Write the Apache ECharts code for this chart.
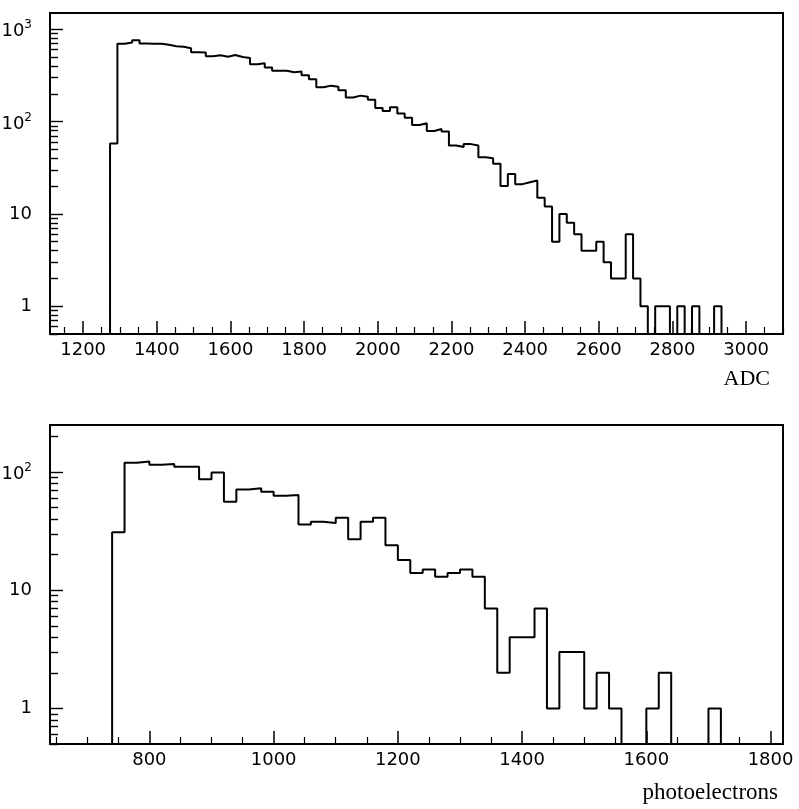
<!DOCTYPE html>
<html>
<head>
<meta charset="utf-8">
<script src="https://cdn.jsdelivr.net/npm/echarts@6/dist/echarts.min.js"></script>
<style>
  html, body { margin: 0; padding: 0; background: #fff; }
  #chart { width: 799px; height: 809px; }
</style>
</head>
<body>
<div id="chart"></div>
<script>
// Upper panel: ADC spectrum, 20-channel bins starting at adcFirstEdge
const adcFirstEdge = 1273;
const adcBinWidth = 20;
const adcCounts = [
  58, 695, 718, 760, 700, 698, 695, 680, 655, 645,
  624, 565, 560, 510, 522, 505, 525, 500, 488, 418,
  428, 385, 356, 356, 343, 348, 318, 288, 235, 245,
  238, 218, 182, 191, 186, 172, 140, 130, 143, 122,
  110, 92, 96, 79, 83, 78, 55, 53, 57, 55,
  41, 40, 35, 20, 27, 21, 22, 23, 15, 12,
  5, 10, 8, 6, 4, 4, 5, 3, 2, 2,
  6, 2, 1, 0, 1, 1, 0, 1, 0, 1,
  0, 0, 1
];
const adcRange = [1110, 3100];
const adcTicks = [1200, 1400, 1600, 1800, 2000, 2200, 2400, 2600, 2800, 3000];
const adcCountRange = [0.5, 1500];
const adcDecades = [1, 10, 100, 1000];

// Lower panel: photoelectron spectrum, 20-wide bins starting at peFirstEdge
const peFirstEdge = 740;
const peBinWidth = 20;
const peCounts = [
  31, 120, 123, 115, 117, 111, 111, 87, 99, 56,
  71, 73, 68, 63, 64, 36, 38, 37, 41, 27,
  38, 41, 24, 18, 14, 15, 13, 14, 15, 13,
  7, 2, 4, 4, 7, 1, 3, 3, 1, 2,
  1, 0, 0, 1, 2, 0, 0, 0, 1
];
const peRange = [640, 1820];
const peTicks = [800, 1000, 1200, 1400, 1600, 1800];
const peCountRange = [0.5, 250];
const peDecades = [1, 10, 100];

const INK = '#000';
const SANS = 'DejaVu Sans';
const SERIF = 'Liberation Serif';

// Outline of a histogram: flat tops joined by vertical edges, empty bins on the floor
function histogramOutline(firstEdge, width, counts, floor) {
  const pts = [[firstEdge, floor]];
  counts.forEach((c, i) => {
    const v = c > 0 ? c : floor;
    pts.push([firstEdge + i * width, v], [firstEdge + (i + 1) * width, v]);
  });
  pts.push([firstEdge + counts.length * width, floor]);
  return pts;
}

// Linear minor ticks every `step`, skipping labelled positions
function linearMinor(range, step, majors) {
  const out = [];
  for (let v = Math.ceil(range[0] / step) * step; v <= range[1]; v += step) {
    if (!majors.includes(v)) out.push(v);
  }
  return out;
}

// Logarithmic minor ticks 2..9 x 10^e inside the range
function logMinor(range) {
  const out = [];
  for (let e = -1; e <= 4; e++) {
    for (let m = 2; m <= 9; m++) {
      const v = m * Math.pow(10, e);
      if (v >= range[0] && v <= range[1]) out.push(v);
    }
  }
  return out;
}

function decadeLabel(v) {
  const e = Math.round(Math.log10(v));
  if (e === 0) return '1';
  if (e === 1) return '10';
  return '{b|10}{s|' + e + '}';
}

// Tick ladder for a log scale, laid out on a companion axis measured in decades
function decadeTickAxis(g, yRange, values, length) {
  return {
    gridIndex: g, type: 'value', position: 'left', offset: 0,
    min: Math.log10(yRange[0]), max: Math.log10(yRange[1]),
    axisLine: { show: false, onZero: false }, splitLine: { show: false }, axisLabel: { show: false },
    axisTick: { show: true, inside: true, length: length, customValues: values.map(Math.log10), lineStyle: { color: INK, width: 1.4 } }
  };
}

function panelAxes(g, xRange, xTicks, yRange, decades, xName, namePad, nameGap, nameSize) {
  const xMain = {
    gridIndex: g, type: 'value', position: 'bottom', offset: 0,
    min: xRange[0], max: xRange[1],
    axisLine: { show: false, onZero: false }, splitLine: { show: false },
    axisTick: { inside: true, length: 13, customValues: xTicks, lineStyle: { color: INK, width: 1.5 } },
    axisLabel: { customValues: xTicks, formatter: v => String(v), color: INK, fontFamily: SANS, fontSize: 18, margin: 7 },
    name: xName, nameLocation: 'end', nameGap: nameGap,
    nameTextStyle: { fontFamily: SERIF, fontSize: nameSize, color: INK, align: 'right', verticalAlign: 'top', padding: [namePad, 0, 0, 0] }
  };
  const xMinor = {
    gridIndex: g, type: 'value', position: 'bottom', offset: 0,
    min: xRange[0], max: xRange[1],
    axisLine: { show: false, onZero: false }, splitLine: { show: false }, axisLabel: { show: false },
    axisTick: { inside: true, length: 7, customValues: linearMinor(xRange, 50, xTicks), lineStyle: { color: INK, width: 1.2 } }
  };
  const yMain = {
    gridIndex: g, type: 'log', logBase: 10, position: 'left', offset: 0,
    min: yRange[0], max: yRange[1],
    axisLine: { show: false, onZero: false }, splitLine: { show: false }, axisTick: { show: false },
    axisLabel: {
      customValues: decades, color: INK, fontFamily: SANS, fontSize: 18, margin: 18,
      formatter: decadeLabel,
      rich: {
        b: { fontFamily: SANS, fontSize: 18, color: INK, lineHeight: 20, padding: [5, 0, 0, 0] },
        s: { fontFamily: SANS, fontSize: 12, color: INK, lineHeight: 10, verticalAlign: 'top' }
      }
    }
  };
  return {
    x: [xMain, xMinor],
    y: [yMain, decadeTickAxis(g, yRange, decades, 13), decadeTickAxis(g, yRange, logMinor(yRange), 8)]
  };
}

const adcAxes = panelAxes(0, adcRange, adcTicks, adcCountRange, adcDecades, 'ADC', 34, -13, 22);
const peAxes = panelAxes(1, peRange, peTicks, peCountRange, peDecades, 'photoelectrons', 37, -5, 23);

const frame = { show: true, borderColor: INK, borderWidth: 2, backgroundColor: 'transparent', containLabel: false, outerBoundsMode: 'none' };

const chart = echarts.init(document.getElementById('chart'), null, { renderer: 'canvas' });
chart.setOption({
  animation: false,
  backgroundColor: '#fff',
  grid: [
    Object.assign({ left: 50, top: 13, width: 733, height: 321 }, frame),
    Object.assign({ left: 50, top: 425, width: 733, height: 319 }, frame)
  ],
  xAxis: [...adcAxes.x, ...peAxes.x],
  yAxis: [...adcAxes.y, ...peAxes.y],
  series: [
    {
      type: 'line', xAxisIndex: 0, yAxisIndex: 0,
      data: histogramOutline(adcFirstEdge, adcBinWidth, adcCounts, adcCountRange[0]),
      showSymbol: false, lineStyle: { color: INK, width: 2 }, silent: true
    },
    {
      type: 'line', xAxisIndex: 2, yAxisIndex: 3,
      data: histogramOutline(peFirstEdge, peBinWidth, peCounts, peCountRange[0]),
      showSymbol: false, lineStyle: { color: INK, width: 2 }, silent: true
    }
  ]
});
</script>
</body>
</html>
